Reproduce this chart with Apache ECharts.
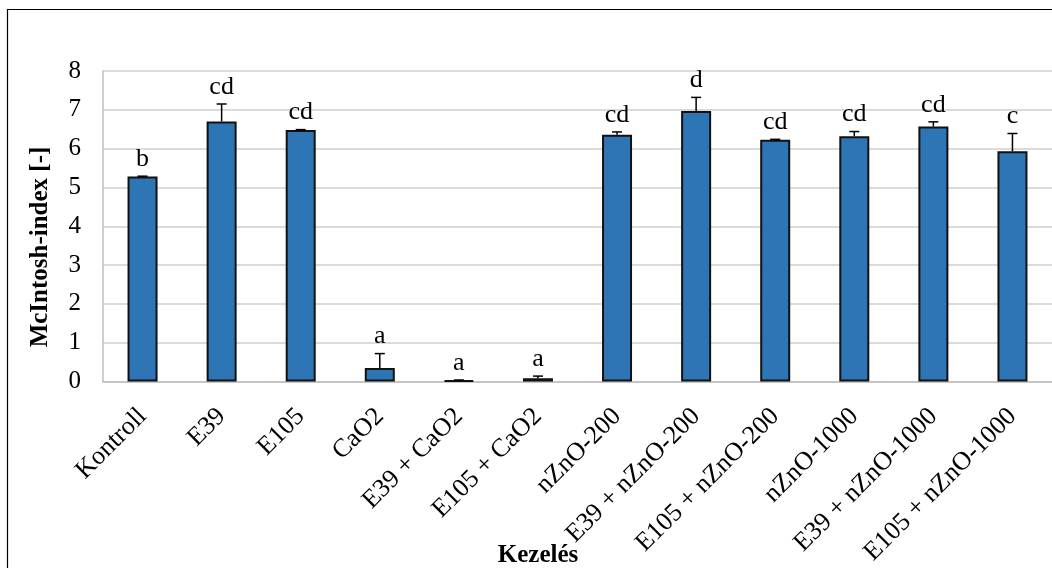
<!DOCTYPE html>
<html>
<head>
<meta charset="utf-8">
<script src="https://cdn.jsdelivr.net/npm/echarts@6/dist/echarts.min.js"></script>
<style>
html,body{margin:0;padding:0;background:#fff;}
#c{width:1052px;height:568px;}
</style>
</head>
<body>
<div id="c"></div>
<script>
const categories = ['Kontroll','E39','E105','CaO2','E39 + CaO2','E105 + CaO2','nZnO-200','E39 + nZnO-200','E105 + nZnO-200','nZnO-1000','E39 + nZnO-1000','E105 + nZnO-1000'];
const means = [5.28, 6.70, 6.48, 0.35, 0.03, 0.085, 6.36, 6.97, 6.23, 6.32, 6.57, 5.93];
const errors = [0.01, 0.45, 0.01, 0.37, 0.01, 0.055, 0.07, 0.35, 0.01, 0.12, 0.12, 0.46];
const letters = ['b','cd','cd','a','a','a','cd','d','cd','cd','cd','c'];
const yTicks = [0,1,2,3,4,5,6,7,8];

const FONT = '"Liberation Serif","Times New Roman",serif';
const chart = echarts.init(document.getElementById('c'));

const errData = means.map((m, i) => [i, m, errors[i]]);

chart.setOption({
  animation: false,
  backgroundColor: '#fff',
  grid: { left: 103, top: 71, width: 955, height: 312, containLabel: false },
  xAxis: {
    type: 'category',
    data: categories,
    axisTick: { show: false },
    axisLine: { lineStyle: { color: '#BFBFBF', width: 1.5 } },
    axisLabel: { interval: 0, rotate: 45, margin: 31, color: '#000', fontSize: 26, fontFamily: FONT }
  },
  yAxis: {
    type: 'value',
    min: yTicks[0], max: yTicks[yTicks.length - 1], interval: 1,
    axisLine: { show: true, lineStyle: { color: '#BFBFBF', width: 1.5 } },
    axisTick: { show: false },
    splitLine: { lineStyle: { color: '#CFCFCF', width: 1.5 } },
    axisLabel: { margin: 22, color: '#000', fontSize: 25, fontFamily: FONT }
  },
  graphic: [
    { type: 'rect', z: 100, shape: { x: 7.5, y: 9.5, width: 1200, height: 800 }, style: { fill: 'none', stroke: '#000', lineWidth: 1.2 } },
    { type: 'text', z: 100, x: 538, y: 556, style: { text: 'Kezelés', font: 'bold 25px ' + FONT, fill: '#000', align: 'center', verticalAlign: 'middle' } },
    { type: 'text', z: 100, x: 41, y: 247, rotation: Math.PI / 2, style: { text: 'McIntosh-index [-]', font: 'bold 25px ' + FONT, fill: '#000', align: 'center', verticalAlign: 'middle' } }
  ],
  series: [
    {
      type: 'bar',
      data: means,
      barWidth: 30,
      itemStyle: { color: '#2E75B6', borderColor: '#111', borderWidth: 2 }
    },
    {
      type: 'custom',
      data: errData,
      z: 10,
      renderItem: function (params, api) {
        const i = api.value(0), m = api.value(1), e = api.value(2);
        const base = api.coord([i, m]);
        const top = api.coord([i, m + e]);
        const half = 5;
        return {
          type: 'group',
          children: [
            { type: 'line', shape: { x1: base[0], y1: base[1], x2: top[0], y2: top[1] }, style: { stroke: '#000', lineWidth: 1.5 } },
            { type: 'line', shape: { x1: top[0] - half, y1: top[1], x2: top[0] + half, y2: top[1] }, style: { stroke: '#000', lineWidth: 1.5 } },
            { type: 'text', x: top[0], y: top[1] - 4, style: { text: letters[params.dataIndex], font: '26px ' + FONT, fill: '#000', align: 'center', verticalAlign: 'bottom' } }
          ]
        };
      }
    }
  ]
});
</script>
</body>
</html>
